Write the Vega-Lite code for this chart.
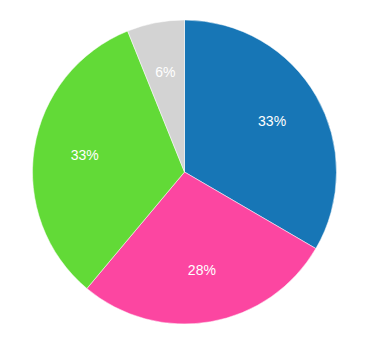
{
  "$schema": "https://vega.github.io/schema/vega-lite/v6.json",
  "width": 369,
  "height": 344,
  "padding": 0,
  "autosize": {"type": "fit", "contains": "padding"},
  "background": "white",
  "view": {"stroke": null},
  "data": {
    "values": [
      {"category": "A", "value": 33.4, "label": "33%", "order": 1},
      {"category": "B", "value": 27.7, "label": "28%", "order": 2},
      {"category": "C", "value": 32.8, "label": "33%", "order": 3},
      {"category": "D", "value": 6.1, "label": "6%", "order": 4}
    ]
  },
  "encoding": {
    "theta": {"field": "value", "type": "quantitative", "stack": true},
    "order": {"field": "order", "type": "quantitative"},
    "color": {
      "field": "category",
      "type": "nominal",
      "scale": {"domain": ["A", "B", "C", "D"], "range": ["#1776b6", "#fc46a1", "#62da37", "#d3d3d3"]},
      "legend": null
    }
  },
  "layer": [
    {"mark": {"type": "arc", "outerRadius": 152, "stroke": "white", "strokeWidth": 0.5}},
    {
      "mark": {"type": "text", "radius": 101, "fill": "white", "fontSize": 14, "font": "Liberation Sans"},
      "encoding": {"text": {"field": "label"}, "color": {"value": "white"}}
    }
  ]
}
